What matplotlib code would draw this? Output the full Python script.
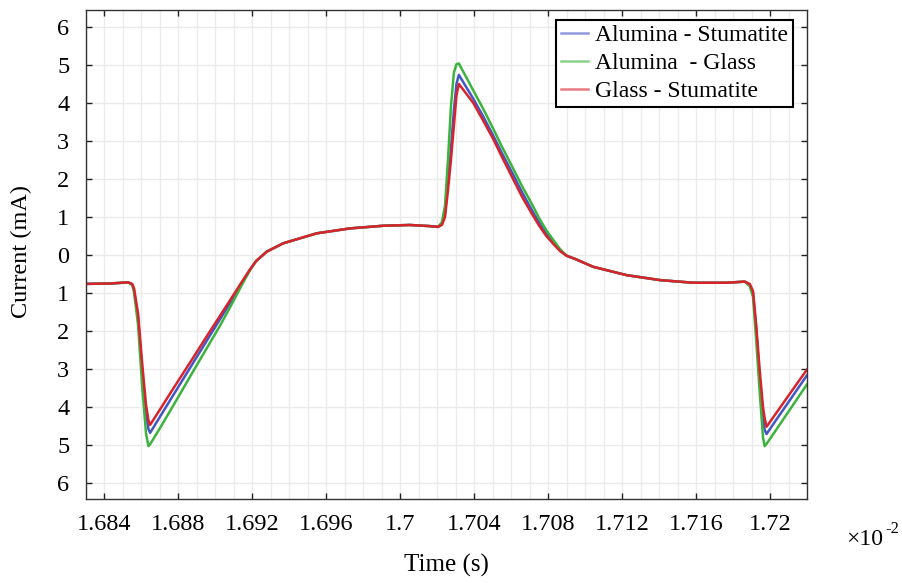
import numpy as np
import matplotlib
matplotlib.use('Agg')
import matplotlib.pyplot as plt

plt.rcParams['font.family'] = ['Liberation Serif', 'DejaVu Serif']

# Tempo em unidades de 1e-2 s
tempo = [1.68301, 1.68430, 1.68528, 1.68550, 1.68560, 1.68582, 1.68604, 1.68625, 1.68638, 1.68647,
         1.68701, 1.68782, 1.68863, 1.68944, 1.69025, 1.69090, 1.69144, 1.69187, 1.69220, 1.69278,
         1.69368, 1.69458, 1.69548, 1.69728, 1.69908, 1.70052, 1.70161, 1.70204, 1.70225, 1.70242,
         1.70258, 1.70274, 1.70290, 1.70304, 1.70317, 1.70395, 1.70447, 1.70503, 1.70550, 1.70610,
         1.70660, 1.70710, 1.70750, 1.70790, 1.70830, 1.70865, 1.70900, 1.70944, 1.71043, 1.71224,
         1.71404, 1.71584, 1.71764, 1.71863, 1.71890, 1.71908, 1.71926, 1.71944, 1.71962, 1.71971,
         1.71981, 1.72026, 1.72107, 1.72199]

# Corrente (mA) para cada par de materiais
alumina_stumatite = [-0.76, -0.75, -0.72, -0.77, -0.92, -1.65, -3.05, -4.20, -4.58, -4.68,
                     -4.25, -3.61, -2.97, -2.33, -1.69, -1.18, -0.73, -0.39, -0.16, 0.09,
                     0.31, 0.44, 0.57, 0.70, 0.77, 0.79, 0.76, 0.74, 0.81, 1.10,
                     1.90, 2.80, 3.80, 4.50, 4.74, 4.11, 3.66, 3.14, 2.68, 2.12,
                     1.64, 1.20, 0.86, 0.56, 0.32, 0.12, -0.02, -0.10, -0.31, -0.53,
                     -0.66, -0.73, -0.73, -0.70, -0.78, -1.00, -2.00, -3.25, -4.30, -4.60,
                     -4.71, -4.39, -3.82, -3.17]

alumina_glass = [-0.76, -0.75, -0.72, -0.79, -0.98, -1.85, -3.45, -4.70, -5.03, -4.98,
                 -4.55, -3.88, -3.20, -2.53, -1.86, -1.28, -0.78, -0.40, -0.16, 0.09,
                 0.31, 0.44, 0.57, 0.70, 0.77, 0.79, 0.76, 0.74, 0.86, 1.30,
                 2.50, 3.90, 4.80, 5.02, 5.04, 4.33, 3.86, 3.32, 2.85, 2.28,
                 1.80, 1.36, 0.98, 0.65, 0.38, 0.15, -0.02, -0.10, -0.31, -0.53,
                 -0.66, -0.73, -0.73, -0.70, -0.82, -1.10, -2.30, -3.60, -4.80, -5.03,
                 -4.97, -4.65, -4.07, -3.41]

glass_stumatite = [-0.76, -0.75, -0.72, -0.76, -0.88, -1.55, -2.85, -3.95, -4.35, -4.47,
                   -4.06, -3.44, -2.83, -2.21, -1.60, -1.11, -0.70, -0.38, -0.16, 0.09,
                   0.31, 0.44, 0.57, 0.70, 0.77, 0.79, 0.76, 0.74, 0.79, 1.00,
                   1.70, 2.50, 3.40, 4.20, 4.50, 4.00, 3.55, 3.05, 2.58, 2.00,
                   1.52, 1.10, 0.78, 0.50, 0.28, 0.10, -0.02, -0.10, -0.31, -0.53,
                   -0.66, -0.73, -0.73, -0.70, -0.76, -0.95, -1.89, -3.03, -4.00, -4.30,
                   -4.52, -4.21, -3.65, -3.02]

xticks = [1.684, 1.688, 1.692, 1.696, 1.7, 1.704, 1.708, 1.712, 1.716, 1.72]
xtick_labels = ['1.684', '1.688', '1.692', '1.696', '1.7', '1.704', '1.708', '1.712', '1.716', '1.72']
yticks = list(range(-6, 7))
ytick_labels = ['6', '5', '4', '3', '2', '1', '0', '1', '2', '3', '4', '5', '6']

fig = plt.figure(figsize=(9.02, 5.83), dpi=100)
ax = fig.add_axes([0.0953, 0.1441, 0.7994, 0.8396])

ax.plot(tempo, alumina_stumatite, color='#4357c2', lw=1.8, label='Alumina - Stumatite')
ax.plot(tempo, alumina_glass, color='#3db33d', lw=1.8, label='Alumina  - Glass')
ax.plot(tempo, glass_stumatite, color='#d8232d', lw=1.8, label='Glass - Stumatite')

ax.set_xlim(1.68301, 1.72199)
ax.set_ylim(-6.42, 6.46)

ax.set_xticks(xticks)
ax.set_xticklabels(xtick_labels)
ax.set_xticks(np.arange(1.683, 1.7225, 0.001), minor=True)
ax.set_yticks(yticks)
ax.set_yticklabels(ytick_labels)

# --- grade e marcas ---
ax.set_axisbelow(True)
ax.grid(which='both', axis='x', color='#ebebeb', lw=1)
ax.grid(which='major', axis='y', color='#ebebeb', lw=1)
ax.tick_params(which='major', direction='in', length=4, width=1, top=True, right=True,
               labelsize=17.5, color='#222222')
ax.tick_params(axis='x', which='major', pad=11)
ax.tick_params(axis='y', which='major', pad=12)
ax.tick_params(which='minor', length=0)
for s in ax.spines.values():
    s.set_color('#333333')
    s.set_linewidth(1)

ax.set_xlabel('Time (s)', fontsize=18)
ax.set_ylabel('Current (mA)', fontsize=17.5)
ax.xaxis.set_label_coords(0.5, -0.112)
ax.yaxis.set_label_coords(-0.075, 0.505)

# fator de escala do eixo x
fig.text(0.938, 0.065, '\u00d710', fontsize=17, ha='left', va='baseline')
fig.text(0.982, 0.086, '-2', fontsize=12, ha='left', va='baseline')

leg = ax.legend(loc='upper right', bbox_to_anchor=(0.9806, 0.9785), fontsize=17,
                frameon=True, fancybox=False, edgecolor='black', framealpha=1,
                handlelength=1.15, handletextpad=0.3, labelspacing=0.27,
                borderpad=0.2, borderaxespad=0)
leg.get_frame().set_linewidth(1.5)
for h in leg.legend_handles:
    h.set_alpha(0.6)

fig.savefig('out.png', dpi=100)
